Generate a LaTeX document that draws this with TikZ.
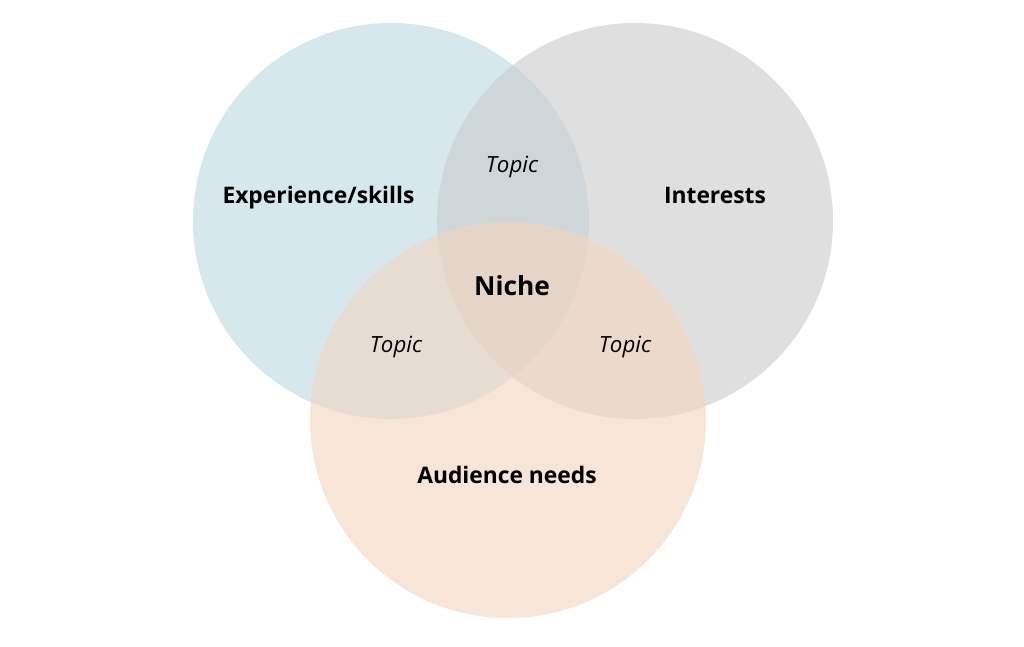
\documentclass[tikz,border=0pt]{standalone}
\usepackage{fontspec}
\setmainfont{Open Sans}
\definecolor{cblue}{RGB}{187,217,227}
\definecolor{cgray}{RGB}{203,203,203}
\definecolor{cpeach}{RGB}{243,213,190}
\begin{document}
\begin{tikzpicture}[x=1pt,y=-1pt,
  circ/.style={fill opacity=0.6,draw=none},
  lbl/.style={anchor=base,font=\fontsize{22.8}{26}\selectfont\bfseries,text=black},
  topic/.style={anchor=base,font=\fontsize{22.3}{26}\selectfont\itshape,text=black},
  niche/.style={anchor=base,font=\fontsize{26.3}{30}\selectfont\bfseries,text=black}]
\useasboundingbox (0,0) rectangle (1024,646);
\fill[white] (0,0) rectangle (1024,646);
\fill[circ,cblue] (391,221) circle (198);
\fill[circ,cgray] (635,221) circle (198);
\fill[circ,cpeach] (508,420) circle (198);
\node[lbl] (exp) at (318.5,203) {Experience/skills};
\node[lbl] (int) at (715,203) {Interests};
\node[lbl] (aud) at (507,483) {Audience needs};
\node[niche] (niche) at (512,295) {Niche};
\node[topic] (t1) at (512,172) {Topic};
\node[topic] (t2) at (396,352) {Topic};
\node[topic] (t3) at (625,352) {Topic};
\end{tikzpicture}
\end{document}
